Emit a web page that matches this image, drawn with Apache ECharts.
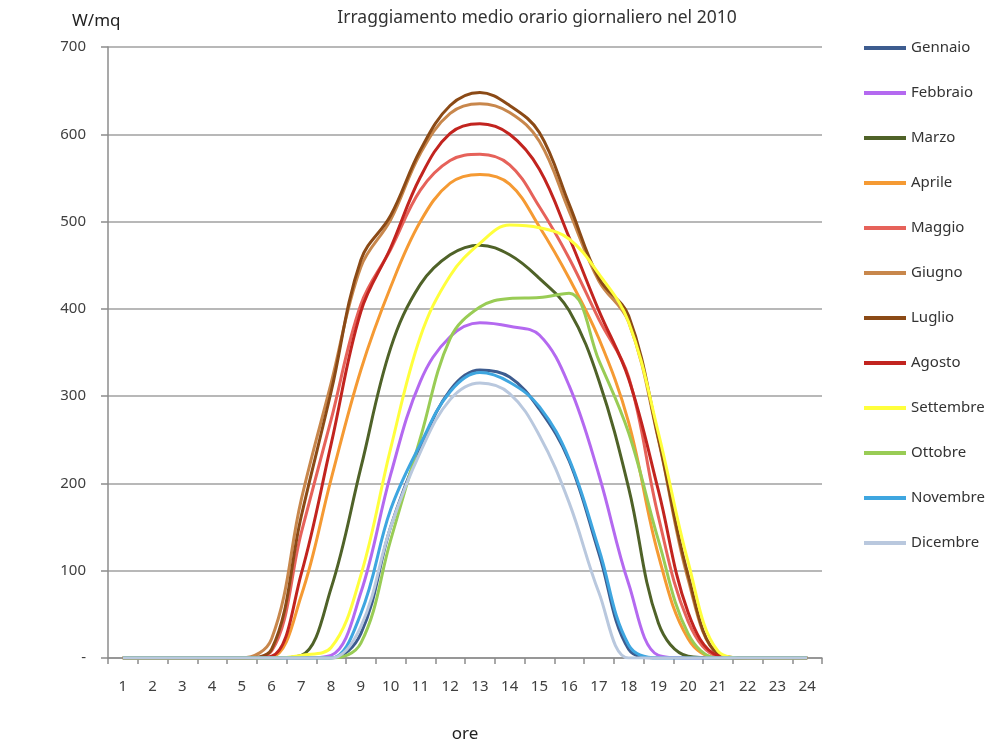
<!DOCTYPE html>
<html>
<head>
<meta charset="utf-8">
<title>Irraggiamento medio orario giornaliero nel 2010</title>
<script src="https://cdn.jsdelivr.net/npm/echarts@6/dist/echarts.min.js"></script>
<style>
  html, body { margin: 0; padding: 0; background: #fff; }
  #chart { width: 987px; height: 755px; }
</style>
</head>
<body>
<div id="chart"></div>
<script>
// ore del giorno
var ore = ['1','2','3','4','5','6','7','8','9','10','11','12','13','14','15','16','17','18','19','20','21','22','23','24'];

// W/mq
var gennaio   = [0,0,0,0,0,0,0,0,28,150,240,307,330,322,285,226,120,10,0,0,0,0,0,0];
var febbraio  = [0,0,0,0,0,0,0,3,75,210,317,368,384,380,370,312,210,85,3,0,0,0,0,0];
var marzo     = [0,0,0,0,0,0,3,80,218,355,428,462,473,462,435,398,318,195,40,2,0,0,0,0];
var aprile    = [0,0,0,0,0,1,72,205,330,425,500,544,554,543,494,435,366,270,118,22,0,0,0,0];
var maggio    = [0,0,0,0,0,8,144,273,405,468,536,570,577,565,517,458,388,322,162,42,2,0,0,0];
var giugno    = [0,0,0,0,0,22,182,315,448,502,578,624,635,625,592,512,432,385,250,90,5,0,0,0];
var luglio    = [0,0,0,0,0,10,163,305,456,507,582,633,648,633,602,520,435,392,252,95,5,0,0,0];
var agosto    = [0,0,0,0,0,2,97,245,397,470,551,601,612,600,560,482,398,320,192,52,3,0,0,0];
var settembre = [0,0,0,0,0,0,3,12,95,240,368,438,475,496,493,480,440,385,258,110,8,0,0,0];
var ottobre   = [0,0,0,0,0,0,0,0,17,135,252,366,402,412,413,418,341,258,135,28,0,0,0,0];
var novembre  = [0,0,0,0,0,0,0,0,51,170,245,305,327,316,288,228,125,15,0,0,0,0,0,0];
var dicembre  = [0,0,0,0,0,0,0,0,36,150,236,296,315,303,255,178,75,0,0,0,0,0,0,0];

var mesi = ['Gennaio','Febbraio','Marzo','Aprile','Maggio','Giugno','Luglio','Agosto','Settembre','Ottobre','Novembre','Dicembre'];
var valori = [gennaio, febbraio, marzo, aprile, maggio, giugno, luglio, agosto, settembre, ottobre, novembre, dicembre];
var colori = ['#3d5c8f','#b469f0','#4f6228','#f59a33','#e6625a','#c8874c','#8b4a16','#c2241f','#ffff3c','#99cc55','#3ea6e0','#b9c8de'];

var font = 'Noto Sans';

var chart = echarts.init(document.getElementById('chart'));

var serie = mesi.map(function (m, i) {
	return {
		name: m,
		type: 'line',
		data: valori[i],
		smooth: 0.38,
		symbol: 'none',
		lineStyle: { width: 3, color: colori[i] },
		itemStyle: { color: colori[i] }
	};
});

var option = {
	backgroundColor: '#fff',
	animation: false,
	textStyle: { fontFamily: font },
	title: [{
		text: 'Irraggiamento medio orario giornaliero nel 2010',
		left: 532,
		textAlign: 'center',
		top: 4,
		textStyle: { fontSize: 17.5, fontWeight: 'normal', color: '#333', fontFamily: font }
	}, {
		text: 'W/mq',
		left: 67,
		top: 8,
		textStyle: { fontSize: 17, fontWeight: 'normal', color: '#222', fontFamily: font }
	}],
	legend: {
		orient: 'vertical',
		left: 859,
		top: 34,
		icon: 'rect',
		itemWidth: 42,
		itemHeight: 4,
		itemGap: 27,
		data: mesi,
		textStyle: { fontSize: 15, color: '#333', lineHeight: 18, fontFamily: font }
	},
	grid: { left: 108, right: 165, top: 47, bottom: 97 },
	xAxis: {
		type: 'category',
		data: ore,
		boundaryGap: true,
		name: 'ore',
		nameLocation: 'middle',
		nameGap: 68,
		nameTextStyle: { fontSize: 17, color: '#222', fontFamily: font },
		axisLine: { lineStyle: { color: '#8c8c8c', width: 1.5 } },
		axisTick: { show: true, alignWithLabel: false, length: 6, lineStyle: { color: '#8c8c8c', width: 1.5 } },
		axisLabel: { fontSize: 15, color: '#404040', margin: 21, fontFamily: font },
		splitLine: { show: false }
	},
	yAxis: {
		type: 'value',
		min: 0,
		max: 700,
		interval: 100,
		axisLine: { show: true, lineStyle: { color: '#8c8c8c', width: 1.5 } },
		axisTick: { show: true, length: 7, lineStyle: { color: '#8c8c8c', width: 1.5 } },
		axisLabel: {
			fontSize: 15, color: '#404040', margin: 22, fontFamily: font,
			formatter: function (v) { return v === 0 ? '-' : v; }
		},
		splitLine: { lineStyle: { color: '#a0a0a0', width: 1.5 } }
	},
	series: serie
};

chart.setOption(option);
</script>
</body>
</html>
